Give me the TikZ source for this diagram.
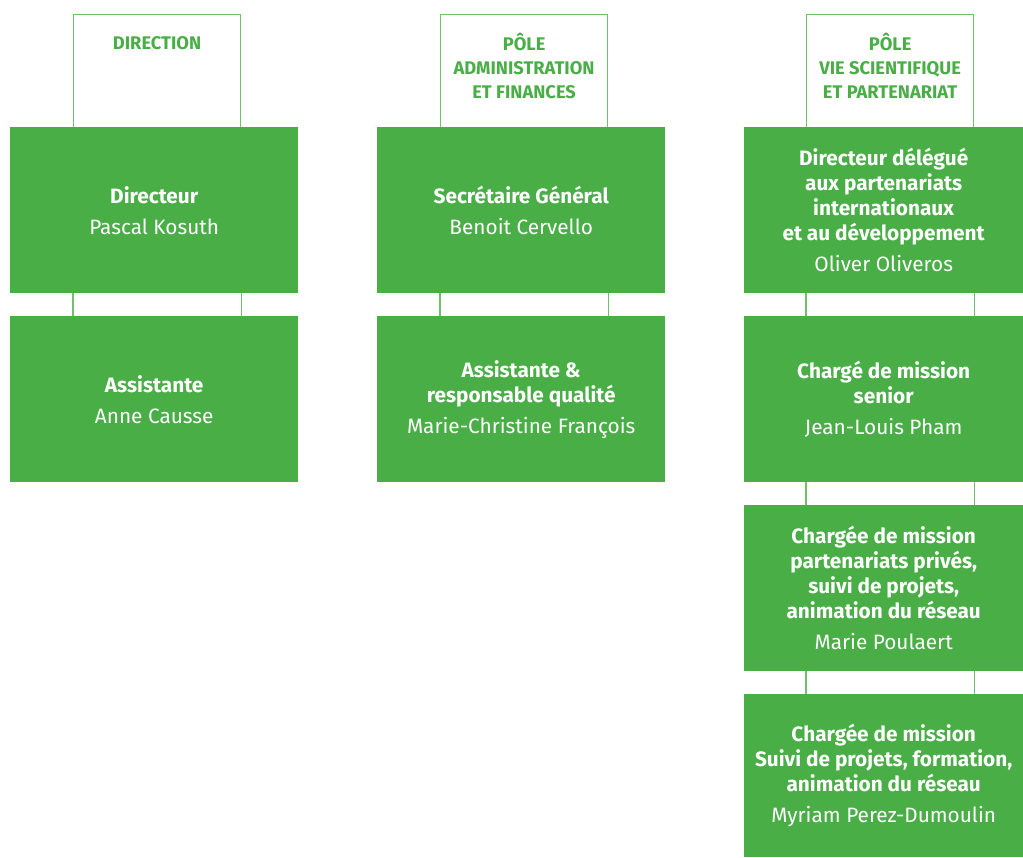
\documentclass[tikz,border=0pt]{standalone}
\usepackage{fontspec}
\setmainfont{Fira Sans}
\definecolor{boxgreen}{RGB}{74,174,71}
\definecolor{linegreen}{RGB}{112,192,108}
\begin{document}
\begin{tikzpicture}[x=1pt,y=-1pt,
  card/.style={fill=boxgreen, minimum width=288pt, minimum height=166pt, inner sep=0pt, text=white, align=center, font=\fontsize{20.8}{25}\selectfont, anchor=north west},
  head/.style={draw=linegreen, line width=1.2pt, minimum width=167pt, minimum height=113pt, anchor=north west, inner sep=0pt},
  headtxt/.style={text=boxgreen, font=\bfseries\fontsize{18.3}{24}\selectfont, align=center, anchor=north, inner sep=0pt},
  link/.style={draw=linegreen, line width=1.2pt}]
\useasboundingbox (0,0) rectangle (1023,857);
% headers
\node[head] (h1) at (73,14) {};
\node[head] (h2) at (440,14) {};
\node[head] (h3) at (806,14) {};
\node[headtxt] (t1) at (h1.north |- 0,36.5) {DIRECTION};
\node[headtxt] (t2) at (h2.north |- 0,32.5) {PÔLE\\ADMINISTRATION\\ET FINANCES};
\node[headtxt] (t3) at (h3.north |- 0,32.5) {PÔLE\\VIE SCIENTIFIQUE\\ET PARTENARIAT};
% column 1
\node[card] (a1) at (10,127) {\textbf{Directeur}\\[6pt]Pascal Kosuth};
\node[card] (a2) at (10,316) {\textbf{Assistante}\\[6pt]Anne Causse};
% column 2
\node[card] (b1) at (377,127) {\textbf{Secrétaire Général}\\[6pt]Benoit Cervello};
\node[card] (b2) at (377,316) {\textbf{Assistante \&}\\\textbf{responsable qualité}\\[6pt]Marie-Christine François};
% column 3
\node[card, minimum width=279pt] (c1) at (744,127) {\textbf{Directeur délégué}\\\textbf{aux partenariats}\\\textbf{internationaux}\\\textbf{et au développement}\\[6pt]Oliver Oliveros};
\node[card, minimum width=279pt] (c2) at (744,316) {\textbf{Chargé de mission}\\\textbf{senior}\\[6pt]Jean-Louis Pham};
\node[card, minimum width=279pt] (c3) at (744,505) {\textbf{Chargée de mission}\\\textbf{partenariats privés,}\\\textbf{suivi de projets,}\\\textbf{animation du réseau}\\[6pt]Marie Poulaert};
\node[card, minimum width=279pt, minimum height=163pt] (c4) at (744,694) {\textbf{Chargée de mission}\\\textbf{Suivi de projets, formation,}\\\textbf{animation du réseau}\\[6pt]Myriam Perez-Dumoulin};
% connectors
\foreach \u/\l/\h in {a1/a2/h1, b1/b2/h2, c1/c2/h3, c2/c3/h3, c3/c4/h3} {
  \draw[link] (\u.south -| \h.west) -- (\l.north -| \h.west);
  \draw[link] (\u.south -| \h.east) -- (\l.north -| \h.east);
}
\end{tikzpicture}
\end{document}
